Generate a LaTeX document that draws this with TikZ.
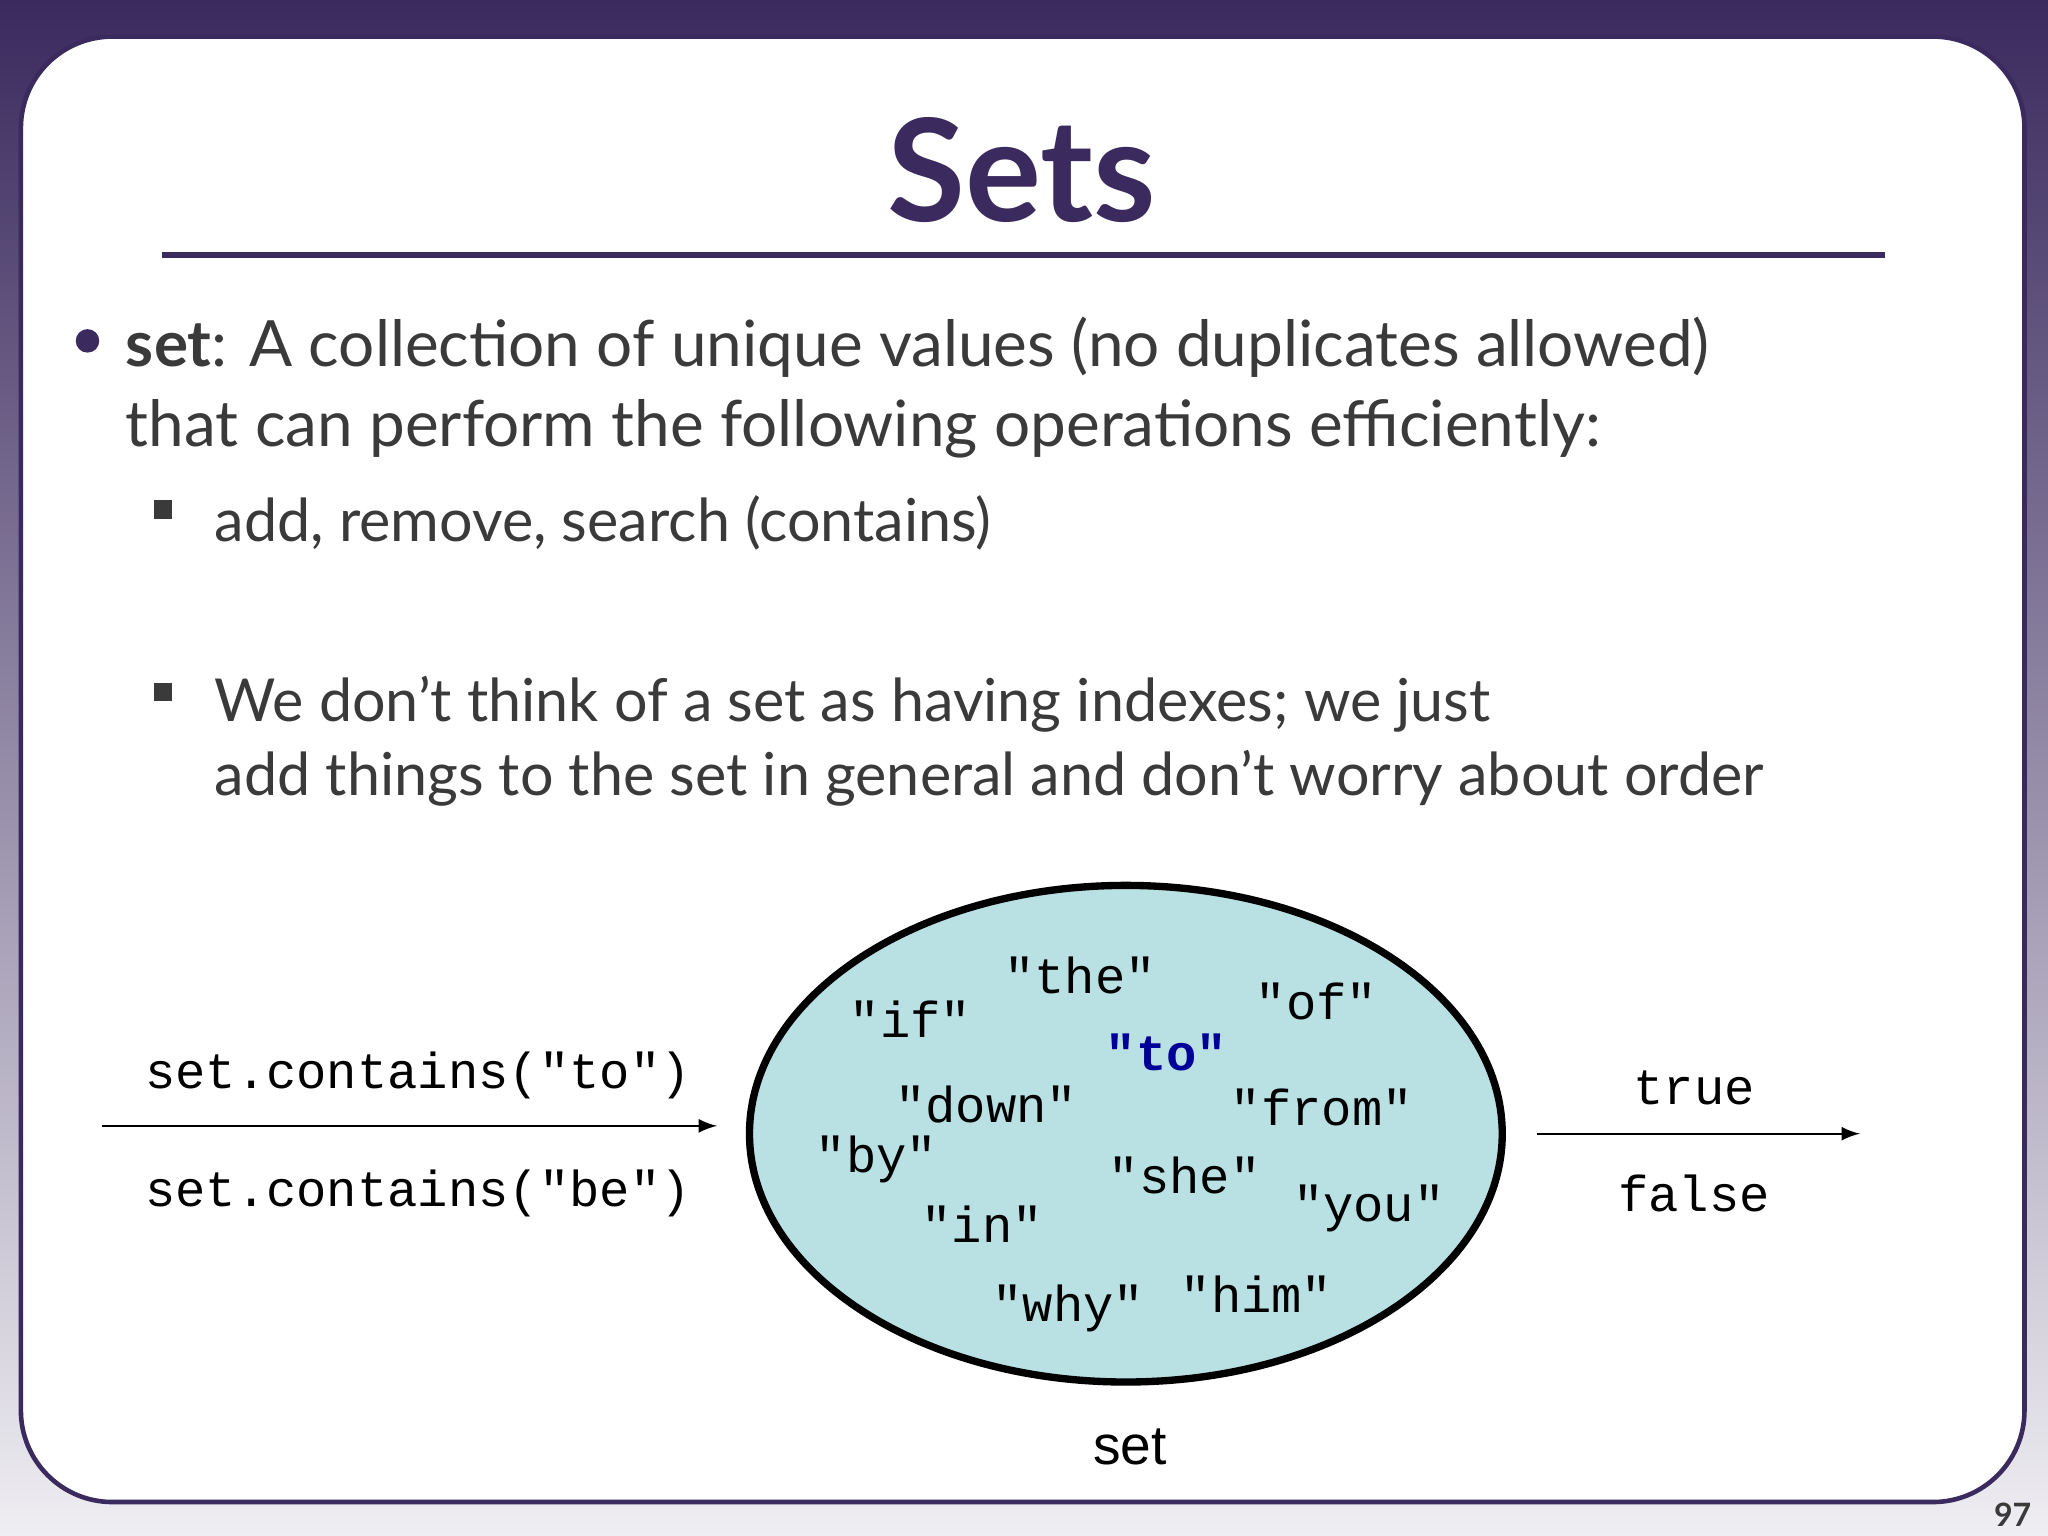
\documentclass[tikz,border=0pt]{standalone}
\usepackage{fontspec}
\setmainfont{Lato}
\setmonofont{Liberation Mono}
\setsansfont{Liberation Sans}
\usetikzlibrary{positioning,shapes.geometric}
\definecolor{slidepurple}{HTML}{3A2A5E}
\definecolor{setfill}{HTML}{B9E0E3}
\definecolor{textgray}{HTML}{3A3A3A}
\newcommand{\apos}{{\char"0027}}
\tikzset{
  word/.style={font=\ttfamily\fontsize{11}{11}\selectfont},
  body/.style={anchor=west,font=\fontsize{13.9}{17}\selectfont,text=textgray},
  sub/.style={anchor=west,font=\fontsize{12.9}{15}\selectfont,text=textgray},
}
\begin{document}
\begin{tikzpicture}[x=0.01cm,y=-0.01cm]
    \useasboundingbox (0,0) rectangle (1568,1176);
    \shade [top color=slidepurple,bottom color=slidepurple!8] (0,0) rectangle (1568,1176);
    \fill [white,draw=slidepurple,line width=1pt,rounded corners=0.7cm] (16,28) rectangle (1550,1150);
    \node (title) [font=\bfseries\fontsize{31}{31}\selectfont,text=slidepurple] at (782,130) {Sets};
    \draw [slidepurple,line width=1.3pt] (124,195) to (1443,195);
    \fill [slidepurple] (67,261) circle (9);
    \node (def1) [body] at (84,266) {\textbf{set}: A collection of unique values (no duplicates allowed)};
    \node (def2) [body] at (84,328) {that can perform the following operations efficiently:};
    \fill [textgray] (118,383) rectangle (132,397);
    \node (ops) [sub] at (152,400) {add, remove, search (contains)};
    \fill [textgray] (118,523) rectangle (132,537);
    \node (idx1) [sub] at (152,539) {We don\apos t think of a set as having indexes; we just};
    \node (idx2) [sub] at (152,596) {add things to the set in general and don\apos t worry about order};
    % the set itself
    \node (set) [ellipse,draw=black,line width=1.6pt,fill=setfill,minimum width=5.76cm,minimum height=3.8cm] at (862,868) {};
    \node (w-the) [word] at (827,747) {"the"};
    \node (w-if) [word] at (697,780) {"if"};
    \node (w-of) [word] at (1008,767) {"of"};
    \node (w-to) [word,font=\ttfamily\bfseries\fontsize{11}{11}\selectfont,text=blue!60!black] at (893,806) {"to"};
    \node (w-down) [word] at (755,846) {"down"};
    \node (w-from) [word] at (1012,848) {"from"};
    \node (w-by) [word] at (671,888) {"by"};
    \node (w-she) [word] at (907,900) {"she"};
    \node (w-you) [word] at (1048,925) {"you"};
    \node (w-in) [word] at (752,937) {"in"};
    \node (w-why) [word] at (818,1002) {"why"};
    \node (w-him) [word] at (962,991) {"him"};
    \node (setlabel) [font=\sffamily\fontsize{12}{12}\selectfont] at (865,1108) {set};
    % calls and results
    \coordinate (in-start) at (78,862);
    \coordinate (in-end) at (549,862);
    \coordinate (out-start) at (1177,868);
    \coordinate (out-end) at (1424,868);
    \draw [-latex] (in-start) to (in-end);
    \draw [-latex] (out-start) to (out-end);
    \node (call1) [word] at (320,823) {set.contains("to")};
    \node (call2) [word] at (320,914) {set.contains("be")};
    \node (res1) [word] at (1297,833) {true};
    \node (res2) [word] at (1297,914) {false};
    \node (page) [font=\bfseries\fontsize{7}{7}\selectfont,text=textgray] at (1541,1160) {97};
\end{tikzpicture}
\end{document}
